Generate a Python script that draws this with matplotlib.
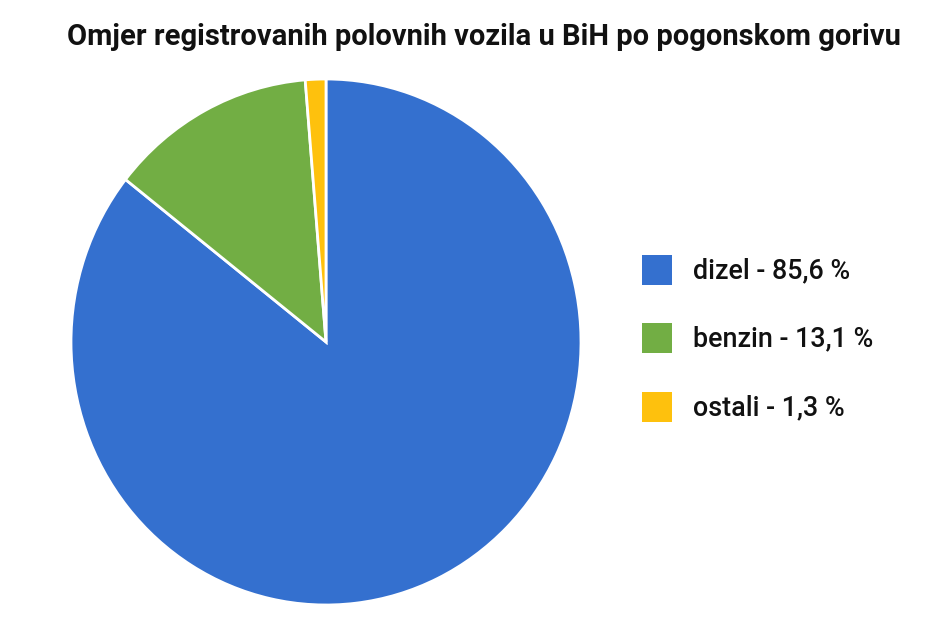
import matplotlib.pyplot as plt
from matplotlib.patches import Rectangle

labels = ['dizel', 'benzin', 'ostali']
shares = [85.6, 13.1, 1.3]
colors = ['#3470cf', '#72ae44', '#fec10d']

plt.rcParams['font.family'] = ['Roboto', 'DejaVu Sans']

W, H = 936, 624
fig = plt.figure(figsize=(W / 100, H / 100), dpi=100)

# pie is slightly taller than wide in the reference, so no equal aspect
ax = fig.add_axes([71 / W, 1 - 605 / H, 510 / W, 526 / H])
ax.pie(shares, colors=colors, startangle=90, counterclock=False,
       wedgeprops={'edgecolor': 'white', 'linewidth': 2})
ax.set_aspect('auto')
ax.set_xlim(-1, 1)
ax.set_ylim(-1, 1)
ax.axis('off')

fig.text(484 / W, 1 - 37 / H,
         'Omjer registrovanih polovnih vozila u BiH po pogonskom gorivu',
         ha='center', va='center', fontsize=21, fontweight='bold', color='#111111')

# legend drawn by hand: squares + labels
row_y = [270, 338, 407]
sq = 30
for lab, val, col, y in zip(labels, shares, colors, row_y):
    fig.patches.append(Rectangle((642 / W, 1 - (y + sq / 2) / H), sq / W, sq / H,
                                 transform=fig.transFigure, facecolor=col,
                                 edgecolor='none'))
    txt = f'{lab} - {str(val).replace(".", ",")} %'
    fig.text(693 / W, 1 - (y + 1) / H, txt, ha='left', va='center',
             fontsize=19.4, fontweight='medium', color='#111111')

fig.savefig('out.png', dpi=100, facecolor='white')
